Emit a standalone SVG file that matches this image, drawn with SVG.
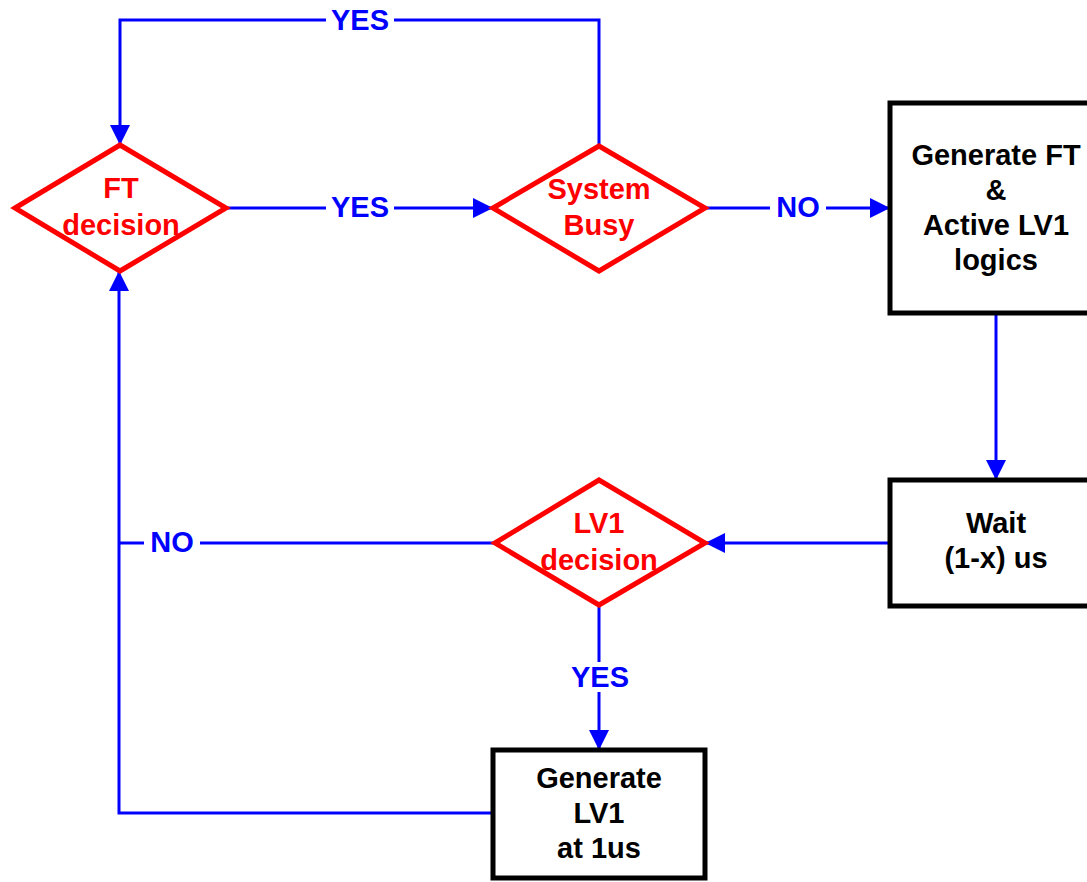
<svg xmlns="http://www.w3.org/2000/svg" width="1087" height="882" viewBox="0 0 1087 882">
<defs>
<style>
.ln{stroke:#0000ff;stroke-width:3;fill:none}
.dia{stroke:#ff0000;stroke-width:5;fill:#fff;stroke-linejoin:miter}
.box{stroke:#000;stroke-width:5;fill:#fff}
text{font-family:"Liberation Sans",Arial,sans-serif;font-weight:bold;font-size:29px;text-anchor:middle}
.r{fill:#ff0000}.k{fill:#000}.b{fill:#0000ff}
</style>
<marker id="ah" viewBox="0 0 20 20" refX="20" refY="10" markerWidth="20" markerHeight="20" markerUnits="userSpaceOnUse" orient="auto">
<path d="M0,0 L20,10 L0,20 Z" fill="#0000ff"/>
</marker>
</defs>
<rect width="1087" height="882" fill="#fff"/>
<g id="connectors">
<path class="ln" d="M599,146 V20 H120 V145" marker-end="url(#ah)"/>
<path class="ln" d="M226,208 H493" marker-end="url(#ah)"/>
<path class="ln" d="M705,208 H890" marker-end="url(#ah)"/>
<path class="ln" d="M996,313 V480" marker-end="url(#ah)"/>
<path class="ln" d="M890,543 H705" marker-end="url(#ah)"/>
<path class="ln" d="M495,543 H120"/>
<path class="ln" d="M599,605 V750" marker-end="url(#ah)"/>
<path class="ln" d="M493,813 H119 V271" marker-end="url(#ah)"/>
<g>
<rect x="326" y="5" width="68" height="30" fill="#fff"/>
<text class="b" x="360" y="30">YES</text>
<rect x="326" y="193" width="68" height="30" fill="#fff"/>
<text class="b" x="360" y="217">YES</text>
<rect x="770" y="193" width="56" height="30" fill="#fff"/>
<text class="b" x="798" y="217">NO</text>
<rect x="144" y="528" width="56" height="30" fill="#fff"/>
<text class="b" x="172" y="552">NO</text>
<rect x="565" y="662" width="68" height="30" fill="#fff"/>
<text class="b" x="600" y="687">YES</text>
</g>
</g>
<g id="ft-decision">
<polygon class="dia" points="15,208 120,145 226,208 120,271"/>
<text class="r" x="121" y="198">FT</text>
<text class="r" x="121" y="235">decision</text>
</g>
<g id="system-busy">
<polygon class="dia" points="493,208 599,146 705,208 599,271"/>
<text class="r" x="599" y="199">System</text>
<text class="r" x="599" y="235">Busy</text>
</g>
<g id="generate-ft">
<rect class="box" x="890" y="103" width="210" height="210"/>
<text class="k" x="996" y="165">Generate FT</text>
<text class="k" x="996" y="200">&amp;</text>
<text class="k" x="996" y="235">Active LV1</text>
<text class="k" x="996" y="270">logics</text>
</g>
<g id="wait">
<rect class="box" x="890" y="480" width="210" height="126"/>
<text class="k" x="996" y="533">Wait</text>
<text class="k" x="996" y="568">(1-x) us</text>
</g>
<g id="lv1-decision">
<polygon class="dia" points="495,543 599,480 705,543 599,605"/>
<text class="r" x="599" y="533">LV1</text>
<text class="r" x="599" y="570">decision</text>
</g>
<g id="generate-lv1">
<rect class="box" x="493" y="750" width="212" height="128"/>
<text class="k" x="599" y="788">Generate</text>
<text class="k" x="599" y="823">LV1</text>
<text class="k" x="599" y="858">at 1us</text>
</g>
</svg>
